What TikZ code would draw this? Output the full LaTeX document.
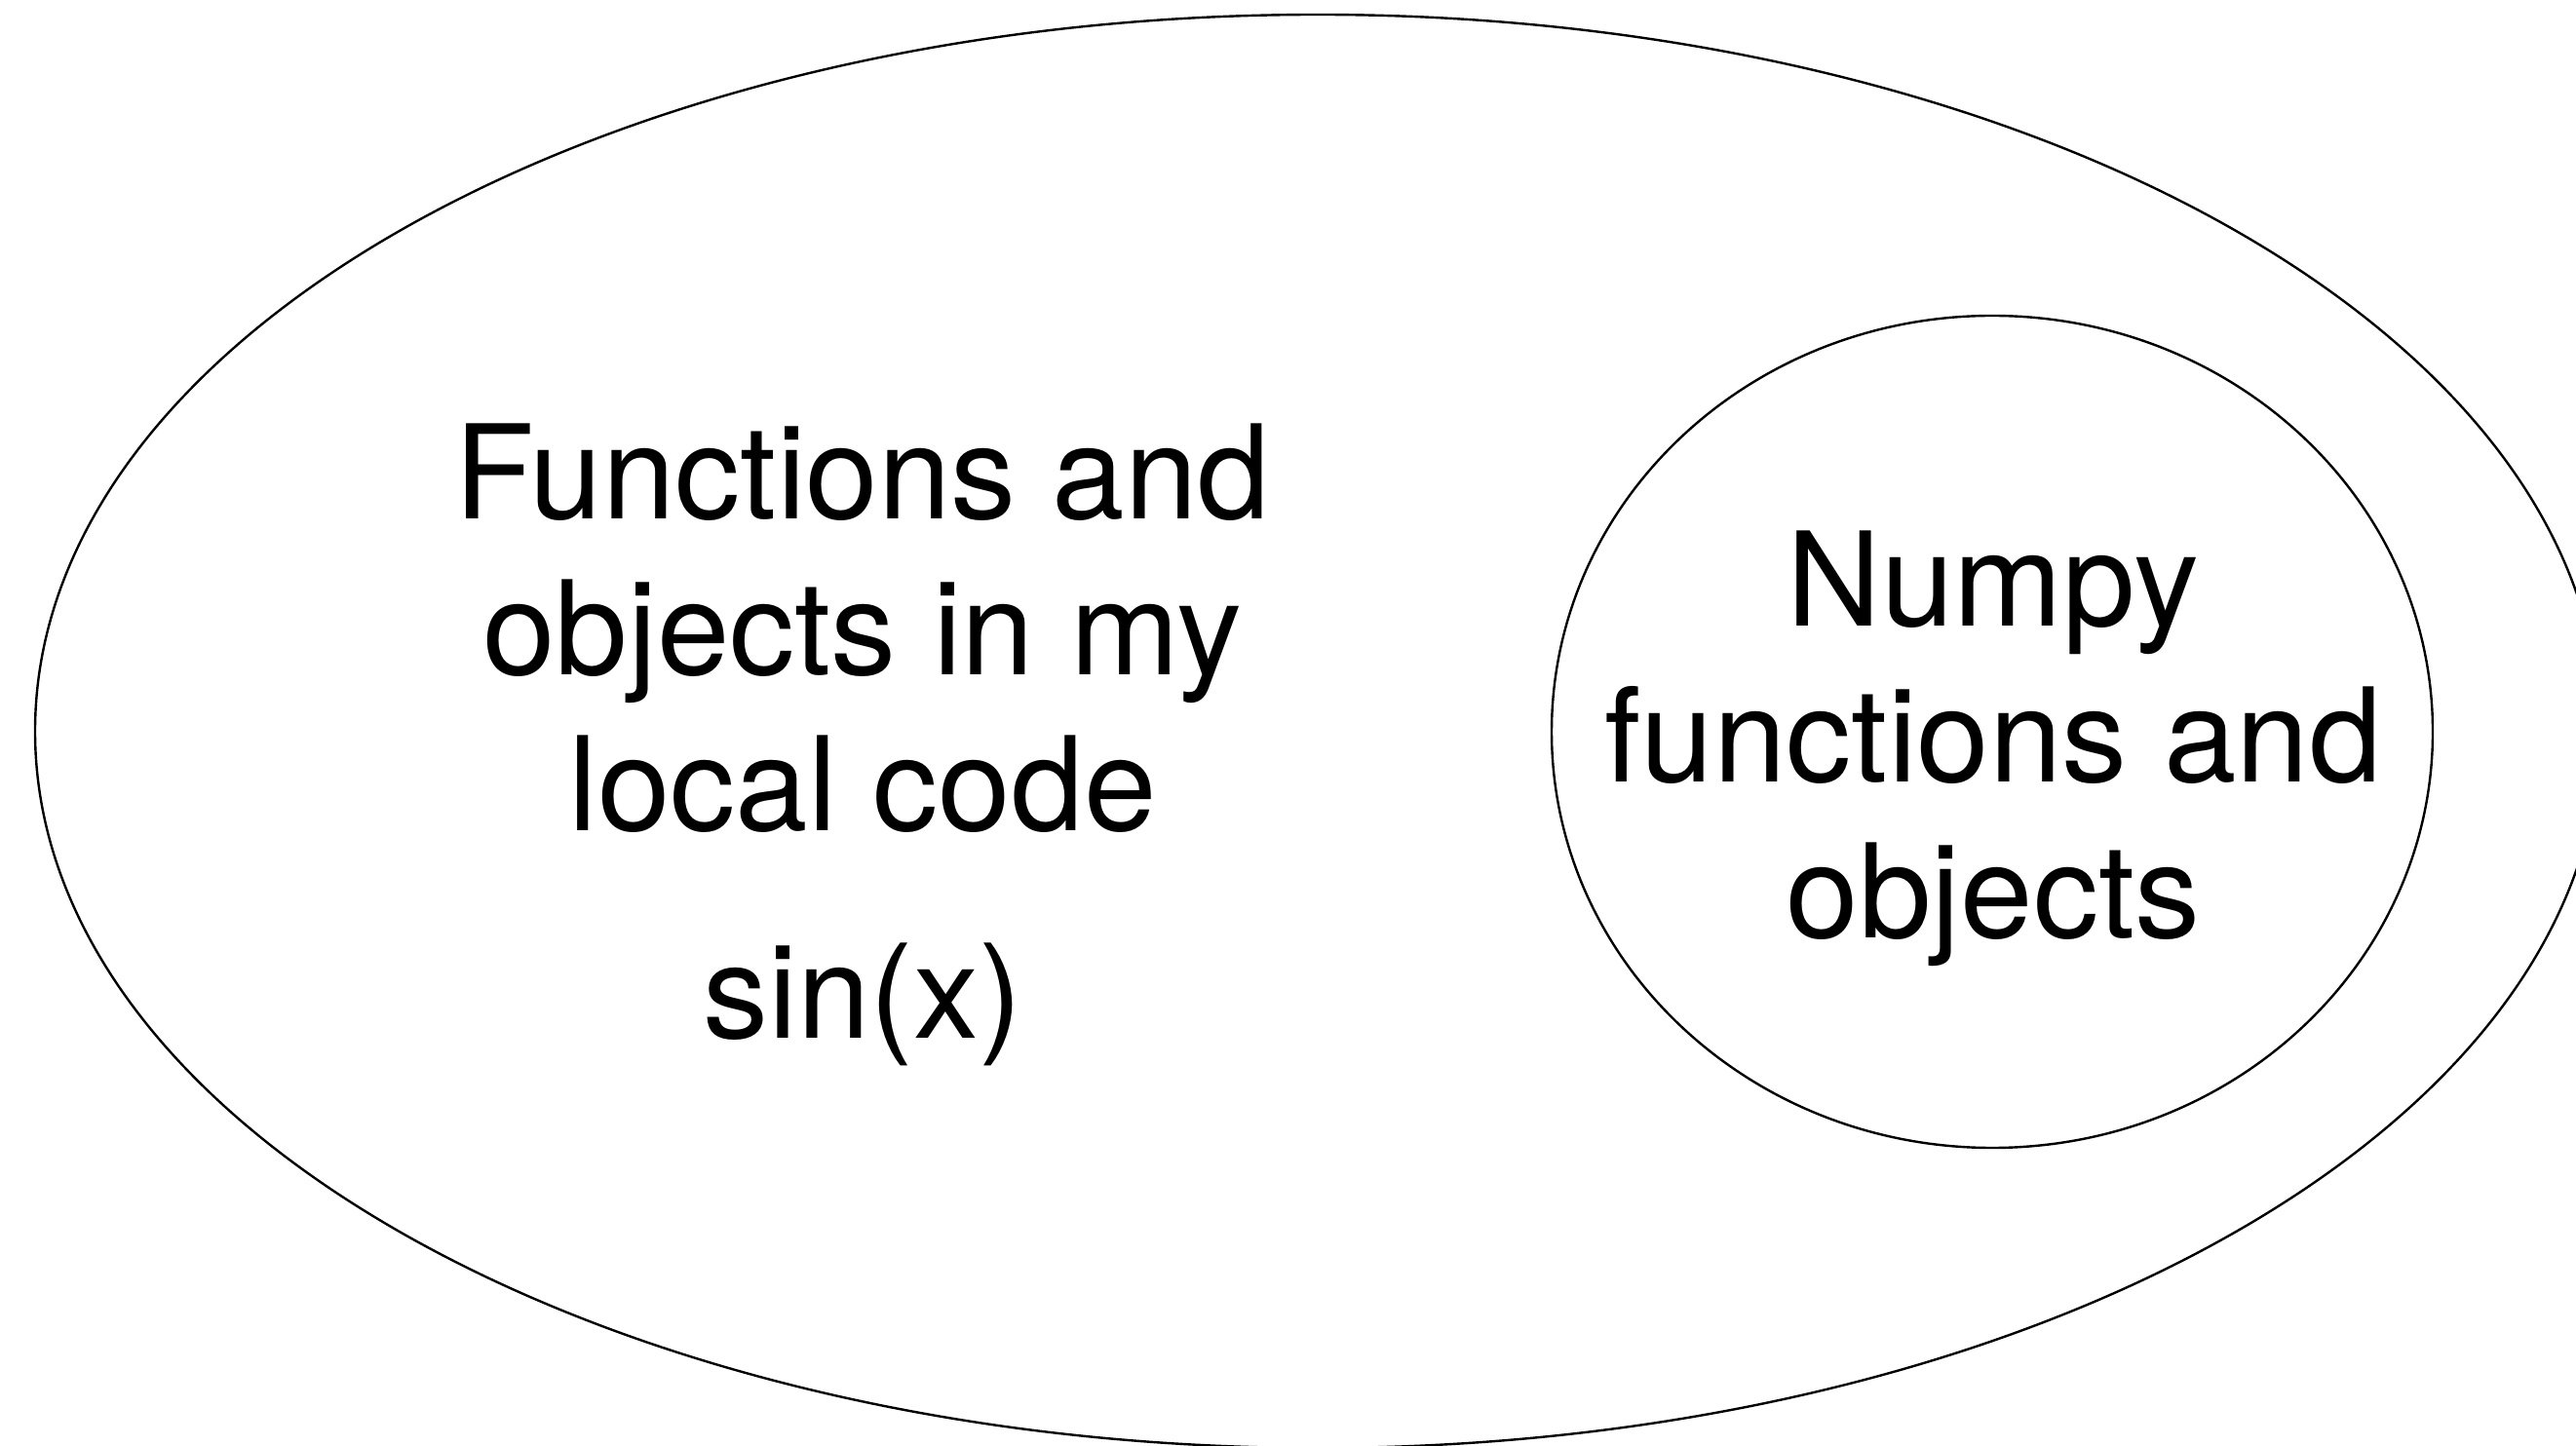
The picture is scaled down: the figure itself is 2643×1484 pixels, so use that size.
\documentclass[tikz,border=0pt]{standalone}
\usepackage{fontspec}
\setmainfont{TeX Gyre Heros}
\tikzset{
  ring/.style={draw=black, line width=0.6pt},
  label/.style={align=center, inner sep=0pt, font=\fontsize{33.5}{40}\selectfont}
}
\begin{document}
\begin{tikzpicture}[x=0.25pt, y=-0.25pt]
  \clip (0,0) rectangle (2643,1484);
  \fill[white] (0,0) rectangle (2643,1484);
  \draw[ring] (1352,750.5) ellipse [x radius=1316, y radius=735.5];
  \draw[ring] (2044,751) ellipse [x radius=452, y radius=427];
  \node[label] (local) at (885,645) {Functions and\\objects in my\\local code};
  \node[label, anchor=base] (sin) at (885,1065) {sin(x)};
  \node[label] (numpy) at (2045,768) {Numpy\\functions and\\objects};
\end{tikzpicture}
\end{document}
